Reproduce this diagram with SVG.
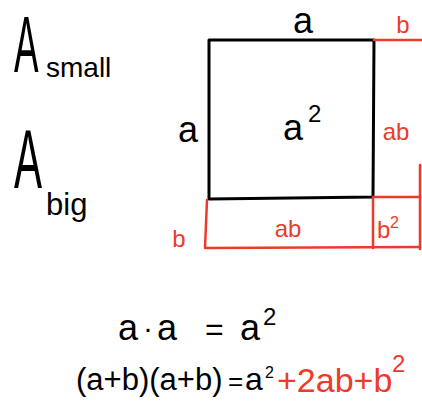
<svg xmlns="http://www.w3.org/2000/svg" width="422" height="405" viewBox="0 0 422 405">
<style>
.k{fill:none;stroke:#000;stroke-width:3;stroke-linecap:round;stroke-linejoin:round}
.r{fill:none;stroke:#ee3a2a;stroke-width:2.5;stroke-linecap:round;stroke-linejoin:round}
text{font-family:"Liberation Sans","Open Sans",sans-serif}
.tk{fill:#000}
.tr{fill:#ee3a2a}
</style>
<rect width="422" height="405" fill="#fff"/>
<g id="labels-left">
<text class="tk" transform="translate(14,72) scale(0.46,1)" font-size="80">A</text>
<text class="tk" x="46" y="77" font-size="28">small</text>
<text class="tk" transform="translate(14,188) scale(0.5,1)" font-size="84">A</text>
<text class="tk" x="46" y="215" font-size="31">big</text>
</g>
<g id="square-a2">
<path class="k" d="M209,40 L374,40 L373,197 L209,199 Z"/>
<text class="tk" x="303" y="33" font-size="36" text-anchor="middle">a</text>
<text class="tk" x="188" y="142" font-size="36" text-anchor="middle">a</text>
<text class="tk" x="293" y="140" font-size="36" text-anchor="middle">a</text>
<text class="tk" x="308" y="122" font-size="24">2</text>
</g>
<g id="red-parts">
<path class="r" d="M374,40 L422,40"/>
<path class="r" d="M373,197 L420,197"/>
<path class="r" d="M420,165 L420,249"/>
<path class="r" d="M207,200 L205,248 L420,247"/>
<path class="r" d="M373,197 L373,248"/>
<text class="tr" x="403" y="33" font-size="24" text-anchor="middle">b</text>
<text class="tr" x="396" y="140" font-size="24" text-anchor="middle">ab</text>
<text class="tr" x="288" y="237" font-size="24" text-anchor="middle">ab</text>
<text class="tr" x="377" y="238" font-size="24">b</text>
<text class="tr" x="390" y="228" font-size="16">2</text>
<text class="tr" x="179" y="247" font-size="24" text-anchor="middle">b</text>
</g>
<g id="equations">
<text class="tk" x="118" y="340" font-size="36">a</text>
<text class="tk" x="143" y="338" font-size="30">·</text>
<text class="tk" x="157" y="340" font-size="36">a</text>
<text class="tk" x="205" y="340" font-size="32">=</text>
<text class="tk" x="240" y="340" font-size="36">a</text>
<text class="tk" x="263" y="325" font-size="24">2</text>
<text class="tk" x="76" y="390" font-size="31">(a+b)(a+b)</text>
<text class="tk" x="228" y="390" font-size="26">=</text>
<text class="tk" x="245" y="390" font-size="32">a</text>
<text class="tk" x="265" y="378" font-size="16">2</text>
<text class="tr" x="277" y="392" font-size="34">+2ab+b</text>
<text class="tr" x="392" y="372" font-size="24">2</text>
</g>
</svg>
